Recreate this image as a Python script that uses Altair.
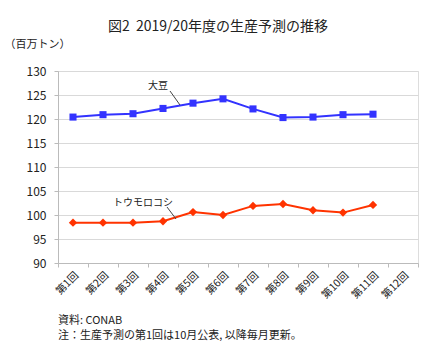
import altair as alt
import pandas as pd

rounds = ["第1回", "第2回", "第3回", "第4回", "第5回", "第6回",
          "第7回", "第8回", "第9回", "第10回", "第11回", "第12回"]
soy = [120.4, 120.9, 121.1, 122.2, 123.3, 124.2, 122.1, 120.3, 120.4, 120.9, 121.0]
corn = [98.4, 98.4, 98.4, 98.7, 100.6, 100.0, 101.9, 102.3, 101.0, 100.5, 102.1]

FONT = "Noto Sans CJK JP"
SOY_C = "#3333FF"
CORN_C = "#FF3300"

df = pd.DataFrame(
    [{"round": rounds[i], "crop": "大豆", "v": v} for i, v in enumerate(soy)]
    + [{"round": rounds[i], "crop": "トウモロコシ", "v": v} for i, v in enumerate(corn)]
)

x = alt.X("round:N", sort=rounds, scale=alt.Scale(type="band", domain=rounds, paddingInner=0, paddingOuter=0),
          bandPosition=0.5,
          axis=alt.Axis(title=None, labelAngle=-45, tickBand="extent", labelFontSize=10.5, labelFont=FONT,
                        labelColor="#222", domainColor="#BBBBBB", tickColor="#BBBBBB", tickSize=4,
                        grid=False, labelPadding=3))
y = alt.Y("v:Q", scale=alt.Scale(domain=[90, 130], nice=False, zero=False),
          axis=alt.Axis(values=[90, 95, 100, 105, 110, 115, 120, 125, 130], title="（百万トン）",
                        titleAngle=0, titleX=-54, titleY=-27, titleAlign="left", titleBaseline="middle",
                        titleFont=FONT, titleFontSize=11, titleFontWeight="normal", titleColor="#222",
                        labelFont=FONT, labelFontSize=12, labelColor="#222", labelPadding=8,
                        domainColor="#BBBBBB", tickColor="#BBBBBB", tickSize=4,
                        gridColor="#D9D9D9", gridWidth=1))

color = alt.Color("crop:N", scale=alt.Scale(domain=["大豆", "トウモロコシ"], range=[SOY_C, CORN_C]), legend=None)

lines = alt.Chart(df).mark_line(strokeWidth=2).encode(x=x, y=y, color=color, detail="crop:N")
soy_pts = alt.Chart(df[df.crop == "大豆"]).mark_point(shape="square", filled=True, size=50, opacity=1,
                                                      color=SOY_C).encode(x=x, y=y)
corn_pts = alt.Chart(df[df.crop == "トウモロコシ"]).mark_point(shape="diamond", filled=True, size=70, opacity=1,
                                                             color=CORN_C).encode(x=x, y=y)

ann = pd.DataFrame({"t": ["大豆", "トウモロコシ"], "px": [90, 55], "py": [15, 132],
                    "x1": [112, 109], "y1": [20, 136], "x2": [122, 118], "y2": [34, 148]})
ann_text = alt.Chart(ann).mark_text(font=FONT, fontSize=10, color="#222", align="left", baseline="middle").encode(
    text="t:N", x=alt.X("px:Q", scale=None), y=alt.Y("py:Q", scale=None))
ann_rule = alt.Chart(ann).mark_rule(color="#444", strokeWidth=1).encode(
    x=alt.X("x1:Q", scale=None), y=alt.Y("y1:Q", scale=None),
    x2="x2:Q", y2="y2:Q")

notes = pd.DataFrame({"t": ["資料: CONAB", "注：生産予測の第1回は10月公表, 以降毎月更新。"], "py": [58, 73]})
notes_text = alt.Chart(notes).transform_calculate(yy="datum.py + 192").mark_text(
    font=FONT, fontSize=11, color="#222", align="left", baseline="middle").encode(
    text="t:N", x=alt.value(0), y=alt.Y("yy:Q", scale=None))

chart = alt.layer(lines, soy_pts, corn_pts, ann_rule, ann_text, notes_text).properties(
    width=360, height=192,
    title=alt.TitleParams("図2\u00a0\u00a02019/20年度の生産予測の推移", font=FONT, fontSize=14, fontWeight="normal",
                          color="#222", anchor="middle", dx=-20, offset=4),
    autosize=alt.AutoSizeParams(type="none"),
    padding={"left": 58, "top": 71, "right": 17, "bottom": 86},
).configure_view(stroke=None).configure(background="white")

chart.save("out.html", embed_options={"renderer": "svg", "actions": False})
